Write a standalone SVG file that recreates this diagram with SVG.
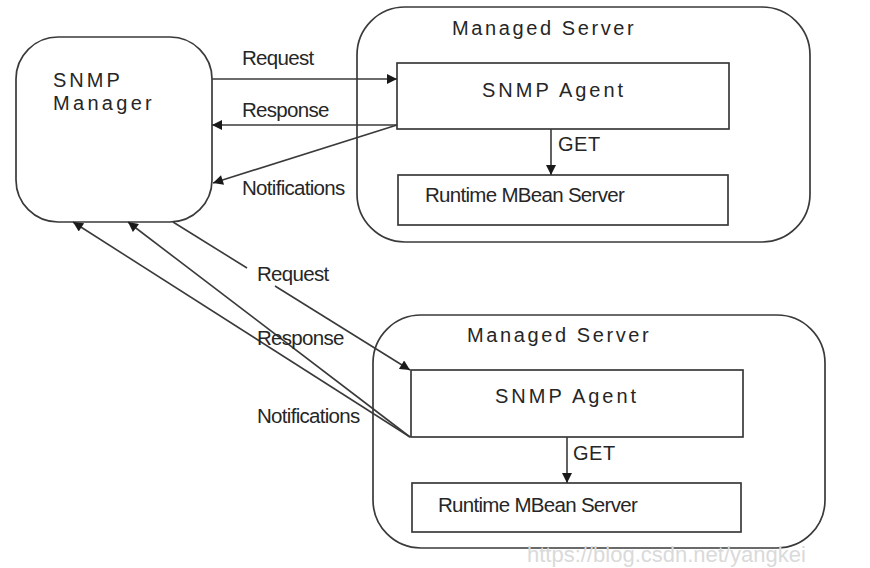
<svg xmlns="http://www.w3.org/2000/svg" width="870" height="568" viewBox="0 0 870 568">
  <style>
    .box { fill: #ffffff; stroke: #3a3a3a; stroke-width: 1.7; }
    .edge { fill: none; stroke: #3a3a3a; stroke-width: 1.6; }
    .wide { font-family: "Liberation Sans", Arial, sans-serif; font-size: 20px; fill: #262626; letter-spacing: 2.6px; }
    .lbl { font-family: "Liberation Sans", Arial, sans-serif; font-size: 20.5px; fill: #262626; letter-spacing: -0.7px; }
    .get { font-family: "Liberation Sans", Arial, sans-serif; font-size: 20px; fill: #262626; letter-spacing: 0.5px; }
    .mark { font-family: "Liberation Sans", Arial, sans-serif; font-size: 22px; fill: #dadada; }
  </style>
  <defs>
    <marker id="arrow" viewBox="0 0 10 10" refX="10" refY="5" markerWidth="12" markerHeight="10" markerUnits="userSpaceOnUse" orient="auto">
      <path d="M0,0 L10,5 L0,10 z" fill="#1a1a1a"/>
    </marker>
  </defs>

  <rect width="870" height="568" fill="#ffffff"/>

  <!-- manager -->
  <g id="snmp-manager">
    <rect class="box" x="16" y="37" width="196" height="185" rx="42" ry="42"/>
    <text class="wide" x="53" y="87" style="letter-spacing:3px">SNMP</text>
    <text class="wide" x="53" y="110" style="letter-spacing:3.3px">Manager</text>
  </g>

  <!-- first managed server -->
  <g id="server-1">
    <rect class="box" x="357" y="7" width="453" height="235" rx="48" ry="48"/>
    <text class="wide" x="452" y="35">Managed Server</text>
  </g>
  <g id="agent-1">
    <rect class="box" x="397" y="63" width="332" height="66"/>
    <text class="wide" x="482" y="97" style="letter-spacing:3px">SNMP Agent</text>
  </g>
  <g id="mbean-1">
    <rect class="box" x="398" y="175" width="330" height="50"/>
    <text class="lbl" x="425" y="202">Runtime MBean Server</text>
  </g>

  <!-- second managed server -->
  <g id="server-2">
    <rect class="box" x="373" y="315" width="452" height="233" rx="48" ry="48"/>
    <text class="wide" x="467" y="342">Managed Server</text>
  </g>
  <g id="agent-2">
    <rect class="box" x="411" y="370" width="332" height="67"/>
    <text class="wide" x="495" y="403" style="letter-spacing:3px">SNMP Agent</text>
  </g>
  <g id="mbean-2">
    <rect class="box" x="412" y="483" width="329" height="49"/>
    <text class="lbl" x="438" y="512">Runtime MBean Server</text>
  </g>

  <!-- connectors -->
  <g id="connectors">
    <line class="edge" x1="212" y1="79" x2="397" y2="79" marker-end="url(#arrow)"/>
    <line class="edge" x1="397" y1="125" x2="212" y2="125" marker-end="url(#arrow)"/>
    <line class="edge" x1="397" y1="125" x2="213" y2="183" marker-end="url(#arrow)"/>
    <line class="edge" x1="551" y1="129" x2="551" y2="175" marker-end="url(#arrow)"/>

    <line class="edge" x1="173" y1="222" x2="247" y2="268"/>
    <line class="edge" x1="275" y1="286" x2="410" y2="370" marker-end="url(#arrow)"/>
    <line class="edge" x1="410" y1="437" x2="128" y2="222" marker-end="url(#arrow)"/>
    <line class="edge" x1="410" y1="437" x2="73" y2="222" marker-end="url(#arrow)"/>
    <line class="edge" x1="567" y1="437" x2="567" y2="483" marker-end="url(#arrow)"/>

    <text class="lbl" x="242" y="65">Request</text>
    <text class="lbl" x="242" y="117">Response</text>
    <text class="lbl" x="242" y="195">Notifications</text>
    <text class="get" x="558" y="151">GET</text>

    <text class="lbl" x="257" y="281">Request</text>
    <text class="lbl" x="257" y="345">Response</text>
    <text class="lbl" x="257" y="423">Notifications</text>
    <text class="get" x="573" y="460">GET</text>
  </g>

  <text class="mark" x="527" y="562">https://blog.csdn.net/yangkei</text>
</svg>
